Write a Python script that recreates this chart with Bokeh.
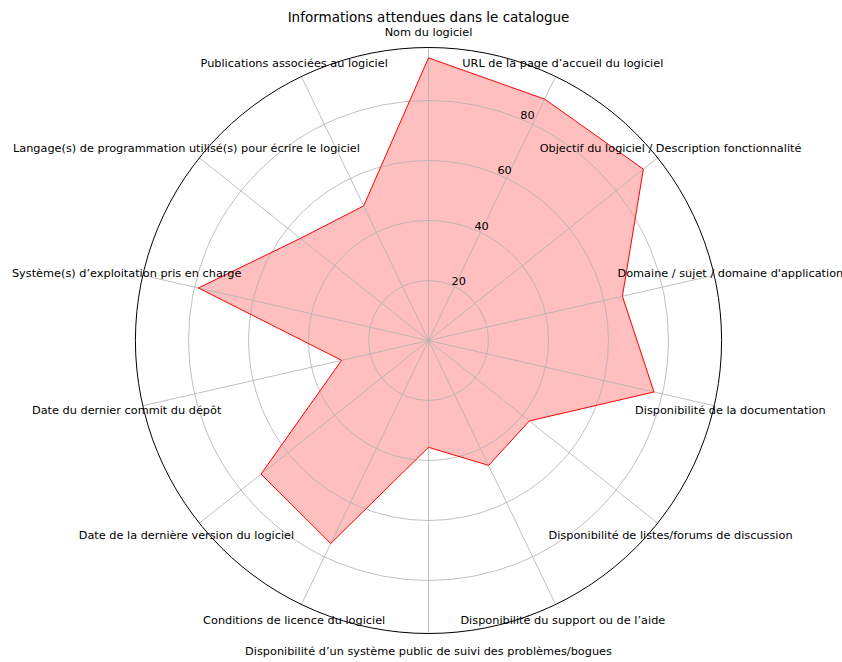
import math
from bokeh.plotting import figure
from bokeh.models import Range1d, Label
from bokeh.core.properties import value
from bokeh.embed import file_html
from bokeh.resources import INLINE

title = "Informations attendues dans le catalogue"
categories = [
    "Nom du logiciel",
    "URL de la page d’accueil du logiciel",
    "Objectif du logiciel / Description fonctionnalité",
    "Domaine / sujet / domaine d'application",
    "Disponibilité de la documentation",
    "Disponibilité de listes/forums de discussion",
    "Disponibilité du support ou de l’aide",
    "Disponibilité d’un système public de suivi des problèmes/bogues",
    "Conditions de licence du logiciel",
    "Date de la dernière version du logiciel",
    "Date du dernier commit du dépôt",
    "Système(s) d’exploitation pris en charge",
    "Langage(s) de programmation utilisé(s) pour écrire le logiciel",
    "Publications associées au logiciel",
]
values = [94.2, 89.3, 91.6, 66.3, 77.1, 43.0, 46.2, 35.6, 75.1, 71.4, 29.7, 78.7, 54.6, 49.8]
rticks = [20, 40, 60, 80]
rmax = 97.7

FONT = "DejaVu Sans"
W, H = 842, 662
CX, CY = 428, 340
S = 3.0  # px per unit

p = figure(width=W, height=H, output_backend="svg", toolbar_location=None,
           x_range=Range1d(-CX / S, (W - CX) / S), y_range=Range1d(-(H - CY) / S, CY / S),
           x_axis_type=None, y_axis_type=None, min_border=0)
p.grid.visible = False
p.outline_line_color = None
p.background_fill_color = "white"

n = len(categories)
angles = [2 * math.pi * i / n for i in range(n)]  # clockwise from top

def pol(r, a):
    return r * math.sin(a), r * math.cos(a)

xs = [pol(v, a)[0] for v, a in zip(values, angles)]
ys = [pol(v, a)[1] for v, a in zip(values, angles)]

# fill
p.patch(xs, ys, fill_color="red", fill_alpha=0.25, line_color=None)

# grid circles
p.circle(x=[0] * len(rticks), y=[0] * len(rticks), radius=rticks,
         fill_color=None, line_color="#b0b0b0", line_width=0.8)
# spokes
p.segment(x0=[0] * n, y0=[0] * n,
          x1=[pol(rmax, a)[0] for a in angles], y1=[pol(rmax, a)[1] for a in angles],
          line_color="#b0b0b0", line_width=0.8)

# outline of data
p.patch(xs, ys, fill_color=None, line_color="red", line_width=1)

# outer circle
p.circle(x=[0], y=[0], radius=[rmax], fill_color=None, line_color="black", line_width=1)

# radial tick labels at 22.5 deg
ra = math.radians(22.5)
p.text(x=[pol(r, ra)[0] for r in rticks], y=[pol(r, ra)[1] for r in rticks],
       text=[str(r) for r in rticks], text_font=value(FONT), text_font_size="11.3px",
       text_align="left", text_baseline="bottom", text_color="black")

# category labels
lr = rmax + 5.5
p.text(x=[pol(lr, a)[0] for a in angles], y=[pol(lr, a)[1] for a in angles],
       text=categories, text_font=value(FONT), text_font_size="11.3px",
       text_align="center", text_baseline="middle", text_color="black", y_offset=1.5)

p.add_layout(Label(x=0, y=(CY - 16) / S, text=title, text_font=FONT, text_font_size="13.5px",
                   text_align="center", text_baseline="middle", text_color="black"))

open("out.html", "w").write(file_html(p, INLINE))
